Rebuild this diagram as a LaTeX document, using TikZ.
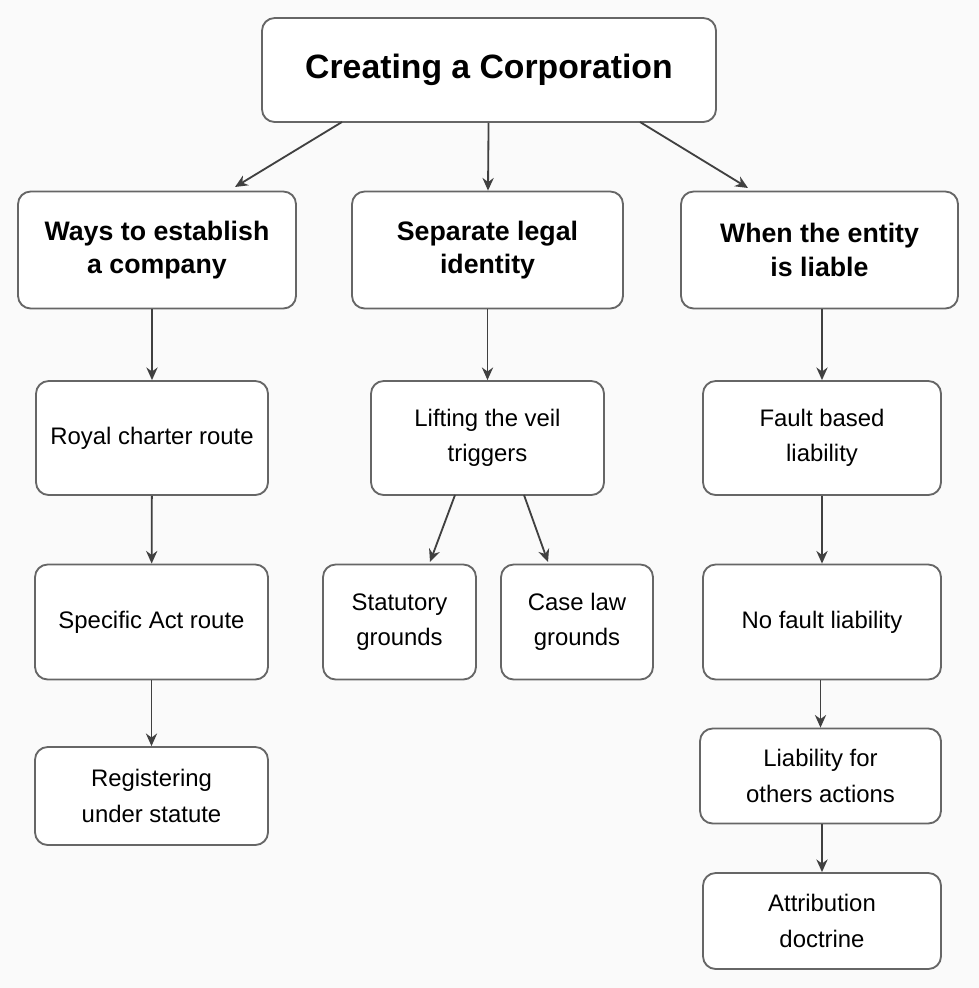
\documentclass[tikz,border=0pt]{standalone}
\usepackage{fontspec}
\setmainfont{Liberation Sans}
\usetikzlibrary{arrows.meta}

\begin{document}
\begin{tikzpicture}[x=0.025cm,y=-0.025cm]
				\tikzstyle{every node}=[draw=black!60,line width=1.3pt,fill=white,rounded corners=9pt,align=center,inner sep=2pt]
				\tikzstyle{head}=[font=\bfseries\fontsize{19}{24}\selectfont]
				\tikzstyle{leaf}=[font=\fontsize{17}{25}\selectfont]
				\tikzstyle{link}=[draw=black!75,line width=1.3pt,-{Stealth[length=9pt,width=8pt]}]
				\useasboundingbox[fill=black!2] (0,0) rectangle (979,988);
				% top
				\node[head,font=\bfseries\fontsize{24}{28}\selectfont,minimum width=454*0.025cm,minimum height=104*0.025cm] (corp) at (489,70) {Creating a Corporation};
				% level 1
				\node[head,minimum width=278*0.025cm,minimum height=117*0.025cm] (ways) at (157,250) {Ways to establish\\a company};
				\node[head,minimum width=271*0.025cm,minimum height=117*0.025cm] (sep) at (487.5,250) {Separate legal\\identity};
				\node[head,minimum width=277*0.025cm,minimum height=117*0.025cm] (when) at (819.5,250) {When the entity\\is liable};
				% left column
				\node[leaf,minimum width=232*0.025cm,minimum height=114*0.025cm] (royal) at (152,438) {Royal charter route};
				\node[leaf,minimum width=233*0.025cm,minimum height=115*0.025cm] (act) at (151.5,622) {Specific Act route};
				\node[leaf,minimum width=233*0.025cm,minimum height=98*0.025cm] (reg) at (151.5,796) {Registering\\under statute};
				% middle column
				\node[leaf,minimum width=233*0.025cm,minimum height=114*0.025cm] (veil) at (487.5,438) {Lifting the veil\\triggers};
				\node[leaf,minimum width=153*0.025cm,minimum height=115*0.025cm] (stat) at (399.5,622) {Statutory\\grounds};
				\node[leaf,minimum width=152*0.025cm,minimum height=115*0.025cm] (case) at (577,622) {Case law\\grounds};
				% right column
				\node[leaf,minimum width=238*0.025cm,minimum height=114*0.025cm] (fault) at (822,438) {Fault based\\liability};
				\node[leaf,minimum width=238*0.025cm,minimum height=115*0.025cm] (nofault) at (822,622) {No fault liability};
				\node[leaf,minimum width=241*0.025cm,minimum height=95*0.025cm] (others) at (820.5,776) {Liability for\\others actions};
				\node[leaf,minimum width=238*0.025cm,minimum height=96*0.025cm] (attr) at (822,921) {Attribution\\doctrine};
				% connectors
				\coordinate (c1) at (342,122); \coordinate (c3) at (640,122);
				\draw[link] (c1) -- (235,187);
				\draw[link] (corp) -- (sep);
				\draw[link] (c3) -- (748,188);
				\draw[link] (ways.south -| royal) -- (royal);
				\draw[link] (royal) -- (act);
				\draw[link] (act) -- (reg);
				\draw[link] (sep) -- (veil);
				\coordinate (v1) at (455,495); \coordinate (v2) at (524,495);
				\draw[link] (v1) -- (430,562);
				\draw[link] (v2) -- (548,562);
				\draw[link] (when.south -| fault) -- (fault);
				\draw[link] (fault) -- (nofault);
				\draw[link] (nofault.south -| others) -- (others);
				\draw[link] (others.south -| attr) -- (attr);
\end{tikzpicture}
\end{document}
